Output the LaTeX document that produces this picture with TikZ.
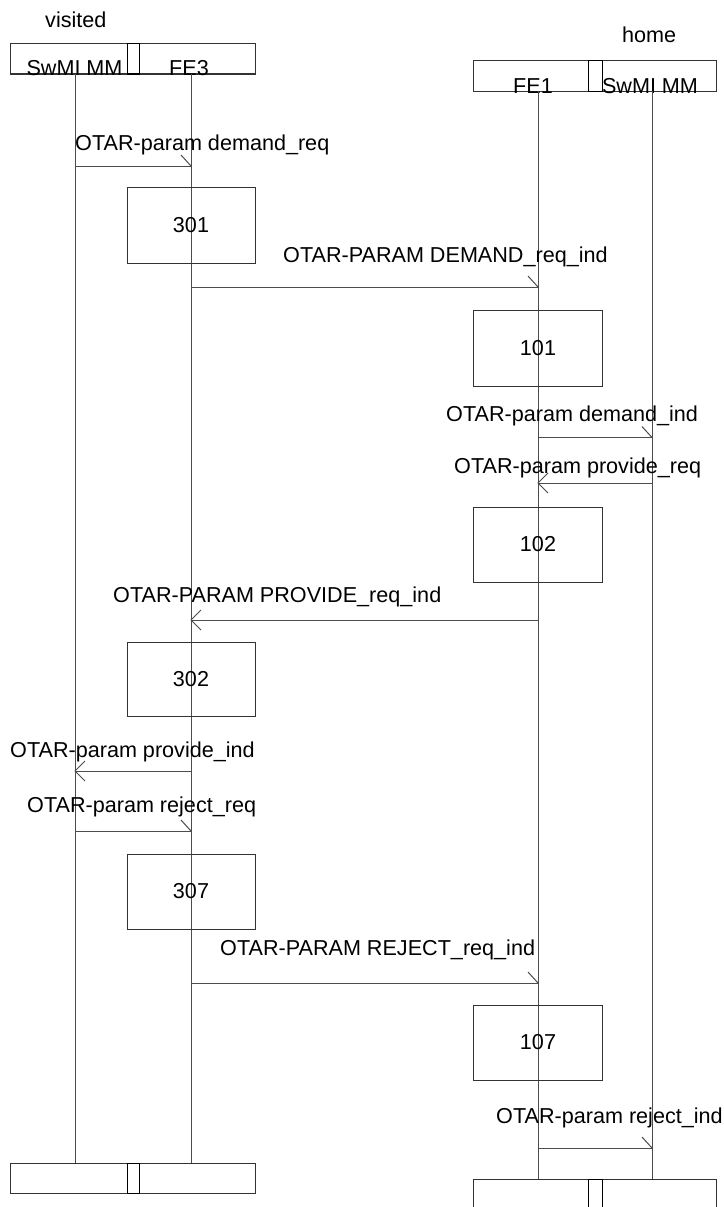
\documentclass[tikz,border=0pt]{standalone}
\usepackage{fontspec}
\setmainfont{Liberation Sans}
\begin{document}
\begin{tikzpicture}[x=1pt,y=-1pt,
  ln/.style={draw=black!70,line width=1pt},
  bx/.style={draw=black!80,line width=1pt},
  sm/.style={draw=black,line width=1pt},
  txt/.style={font=\fontsize{21.6}{24}\selectfont,inner sep=0pt},
  lbl/.style={txt,anchor=base west},
  rmsg/.style={ln},
  lmsg/.style={ln}]
\useasboundingbox (0,0) rectangle (723,1207);
\fill[white] (0,0) rectangle (723,1207);

% top labels
\node[lbl] (visited) at (45,28) {visited};
\node[lbl] (home) at (622,43) {home};

% head boxes
\draw[bx] (10.5,43.5) rectangle (255.5,74);
\draw[sm] (127,43.5) rectangle (139,74);
\node[txt,anchor=base] (hA) at (74.5,76) {SwMI MM};
\node[txt,anchor=base] (hB) at (189,76) {FE3};
\draw[bx] (473,61) rectangle (716,91);
\draw[sm] (588,61) rectangle (602,91);
\node[txt,anchor=base] (hC) at (533,93) {FE1};
\node[txt,anchor=base] (hD) at (650,93) {SwMI MM};

% lifeline coordinates
\coordinate (A0) at (75,74);   \coordinate (A1) at (75,1163);
\coordinate (B0) at (191,74);  \coordinate (B1) at (191,1163);
\coordinate (C0) at (538,91);  \coordinate (C1) at (538,1179);
\coordinate (D0) at (652,91);  \coordinate (D1) at (652,1179);

% bottom boxes
\draw[bx] (10.5,1163) rectangle (255.5,1193);
\draw[sm] (127,1163) rectangle (139,1193);
\draw[bx] (473,1210) -- (473,1179) -- (716,1179) -- (716,1210);
\draw[sm] (588,1210) -- (588,1179) -- (602,1179) -- (602,1210);

% lifelines
\draw[ln] (A0) -- (A1);
\draw[ln] (B0) -- (B1);
\draw[ln] (C0) -- (C1);
\draw[ln] (D0) -- (D1);

% action boxes
\foreach \n/\xa/\xb/\ya/\yb/\cx in {301/127/255/187/263/191,101/473/602/310/386/538,102/473/602/507/582/538,302/127/255/642/716/191,307/127/255/854/929/191,107/473/602/1005/1080/538}{
  \draw[bx] (\xa,\ya) rectangle (\xb,\yb);
  \node[txt] (box\n) at (\cx,{(\ya+\yb)/2}) {\n};
}

% message coordinates
\coordinate (m1s) at (75,166);   \coordinate (m1e) at (191,166);
\coordinate (m2s) at (191,287);  \coordinate (m2e) at (538,287);
\coordinate (m3s) at (538,437.5);\coordinate (m3e) at (652,437.5);
\coordinate (m4s) at (652,483);  \coordinate (m4e) at (538,483);
\coordinate (m5s) at (538,620);  \coordinate (m5e) at (191,620);
\coordinate (m6s) at (191,771);  \coordinate (m6e) at (75,771);
\coordinate (m7s) at (75,831);   \coordinate (m7e) at (191,831);
\coordinate (m8s) at (191,983);  \coordinate (m8e) at (538,983);
\coordinate (m9s) at (538,1148); \coordinate (m9e) at (652,1148);

% rightward messages: half arrow head
\foreach \m in {m1,m2,m3,m7,m8,m9}{
  \draw[rmsg] (\m s) -- (\m e);
  \draw[rmsg] (\m e) -- ++(-10,-11);
}
% leftward messages: open arrow head
\foreach \m in {m4,m5,m6}{
  \draw[lmsg] (\m s) -- (\m e);
  \draw[lmsg] ([xshift=10pt,yshift=-10pt]\m e) -- (\m e) -- ([xshift=10pt,yshift=10pt]\m e);
}

% message labels
\node[lbl] (l1) at (75,150) {OTAR-param demand\_req};
\node[lbl] (l2) at (283,262) {OTAR-PARAM DEMAND\_req\_ind};
\node[lbl] (l3) at (446,421) {OTAR-param demand\_ind};
\node[lbl] (l4) at (454,473) {OTAR-param provide\_req};
\node[lbl] (l5) at (113,602) {OTAR-PARAM PROVIDE\_req\_ind};
\node[lbl] (l6) at (10,757) {OTAR-param provide\_ind};
\node[lbl] (l7) at (27,812) {OTAR-param reject\_req};
\node[lbl] (l8) at (220,955) {OTAR-PARAM REJECT\_req\_ind};
\node[lbl] (l9) at (496,1123) {OTAR-param reject\_ind};
\end{tikzpicture}
\end{document}
